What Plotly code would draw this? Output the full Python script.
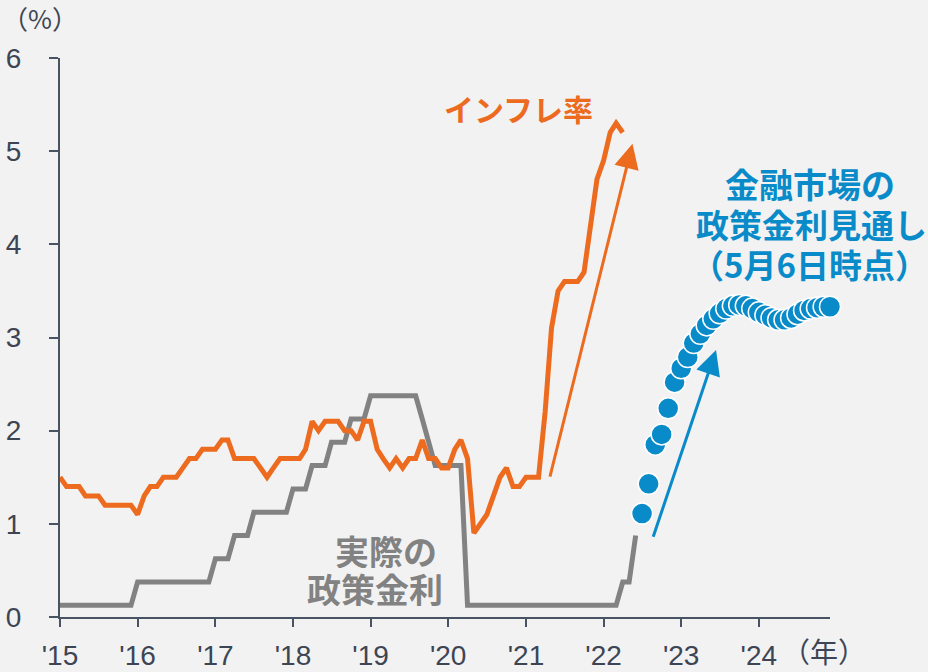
import pandas as pd
import plotly.graph_objects as go

# ---------------- data ----------------
inflation_start = "2015-01-01"
inflation = [
    1.5, 1.4, 1.4, 1.4, 1.3, 1.3, 1.3, 1.2, 1.2, 1.2, 1.2, 1.2,   # 2015
    1.1, 1.3, 1.4, 1.4, 1.5, 1.5, 1.5, 1.6, 1.7, 1.7, 1.8, 1.8,   # 2016
    1.8, 1.9, 1.9, 1.7, 1.7, 1.7, 1.7, 1.6, 1.5, 1.6, 1.7, 1.7,   # 2017
    1.7, 1.7, 1.8, 2.1, 2.0, 2.1, 2.1, 2.1, 2.0, 2.0, 1.9, 2.1,   # 2018
    2.1, 1.8, 1.7, 1.6, 1.7, 1.6, 1.7, 1.7, 1.9, 1.7, 1.7, 1.6,   # 2019
    1.6, 1.8, 1.9, 1.7, 0.9, 1.0, 1.1, 1.3, 1.5, 1.6, 1.4, 1.4,   # 2020
    1.5, 1.5, 1.5, 2.2, 3.1, 3.5, 3.6, 3.6, 3.6, 3.7, 4.2, 4.7,   # 2021
    4.9, 5.2, 5.3, 5.2,                                           # 2022
]

policy_start = "2015-01-01"
policy_rate = (
    [0.125] * 12 +                                                           # 2015
    [0.375] * 12 +                                                           # 2016
    [0.625, 0.625, 0.625, 0.875, 0.875, 0.875] + [1.125] * 6 +               # 2017
    [1.375, 1.375, 1.375, 1.625, 1.625, 1.625,
     1.875, 1.875, 1.875, 2.125, 2.125, 2.125] +                             # 2018
    [2.375] * 8 + [2.125, 1.875, 1.625, 1.625] +                             # 2019
    [1.625, 1.625, 1.625] + [0.125] * 9 +                                    # 2020
    [0.125] * 12 +                                                           # 2021
    [0.125, 0.125, 0.125, 0.375, 0.375, 0.875]                               # 2022
)

market_start = "2022-07-01"
market_path = [
    1.11, 1.43, 1.85, 1.96, 2.24, 2.52,                       # 2022 Jul-Dec
    2.67, 2.79, 2.94, 3.04, 3.13, 3.20, 3.26, 3.31, 3.34, 3.35, 3.34, 3.31,  # 2023
    3.27, 3.24, 3.21, 3.19, 3.19, 3.21, 3.25, 3.29, 3.31, 3.32, 3.33, 3.33,  # 2024
]

year_ticks = [f"{y}-01-01" for y in range(2015, 2025)]
year_labels = ["'15", "'16", "'17", "'18", "'19", "'20", "'21", "'22", "'23", "'24"]
y_ticks = [0, 1, 2, 3, 4, 5, 6]

# arrows (tail -> tip), data coordinates
orange_arrow = dict(tail=("2021-04-22", 1.49), tip=("2022-05-17", 5.08))
blue_arrow = dict(tail=("2022-08-20", 0.845), tip=("2023-06-14", 2.865))

# ---------------- style ----------------
BG = "#F2F2F2"
AXIS = "#4A5363"
TXT = "#3D4554"
ORANGE = "#ED6B1F"
GRAY = "#828282"
BLUE = "#0A8BC9"
LATIN = "Liberation Sans, Arial, sans-serif"
CJK = "Noto Sans CJK JP, sans-serif"

W, H = 928, 672
L, R, T, B = 60, 98, 58, 55
PW, PH = W - L - R, H - T - B


def px(x, y):
    """pixel position -> paper coordinates (for text placement)"""
    return (x - L) / PW, (H - B - y) / PH


x_infl = pd.date_range(inflation_start, periods=len(inflation), freq="MS")
x_pol = pd.date_range(policy_start, periods=len(policy_rate), freq="MS")
x_mkt = pd.date_range(market_start, periods=len(market_path), freq="MS")

fig = go.Figure()
fig.add_trace(go.Scatter(x=x_pol, y=policy_rate, mode="lines",
                         line=dict(color=GRAY, width=5), cliponaxis=False,
                         hoverinfo="skip", showlegend=False))
fig.add_trace(go.Scatter(x=x_infl, y=inflation, mode="lines",
                         line=dict(color=ORANGE, width=5), cliponaxis=False,
                         hoverinfo="skip", showlegend=False))
fig.add_trace(go.Scatter(x=x_mkt, y=market_path, mode="markers",
                         marker=dict(color=BLUE, size=21,
                                     line=dict(color="white", width=1.5)),
                         cliponaxis=False, hoverinfo="skip", showlegend=False))

annotations = []
for arr, col in ((orange_arrow, ORANGE), (blue_arrow, BLUE)):
    annotations.append(dict(
        x=arr["tip"][0], y=arr["tip"][1], ax=arr["tail"][0], ay=arr["tail"][1],
        xref="x", yref="y", axref="x", ayref="y", text="", showarrow=True,
        arrowhead=2, arrowsize=1.65, arrowwidth=3, arrowcolor=col, standoff=0))

def text(x, y, s, size, color, height=None, family=CJK):
    xp, yp = px(x, y)
    ann = dict(x=xp, y=yp, xref="paper", yref="paper", text=s,
               showarrow=False, xanchor="center", yanchor="middle",
               font=dict(family=family, size=size, color=color))
    if height:
        ann["height"] = height
    annotations.append(ann)

text(518, 108, "<b>インフレ率</b>", 30, ORANGE)
text(386, 550, "<b>実際の</b>", 34, GRAY, height=36)
text(375, 588, "<b>政策金利</b>", 34, GRAY, height=36)
text(810, 183, "<b>金融市場の</b>", 34, BLUE, height=38)
text(811, 224, "<b>政策金利見通し</b>", 33, BLUE, height=38)
text(809, 264, "<b>（5月6日時点）</b>", 33, BLUE, height=38)
text(40, 18, "（%）", 26, TXT)
text(824, 651, "（年）", 28, TXT)

fig.update_layout(
    width=W, height=H, autosize=False,
    margin=dict(l=L, r=R, t=T, b=B, pad=0, autoexpand=False),
    paper_bgcolor=BG, plot_bgcolor=BG,
    annotations=annotations,
    xaxis=dict(type="date", range=["2015-01-01", "2024-12-01"],
               tickvals=year_ticks, ticktext=year_labels, automargin=False,
               showgrid=False, zeroline=False, showline=True,
               linecolor=AXIS, linewidth=2, ticks="outside", ticklen=8,
               tickwidth=2, tickcolor=AXIS, ticklabelstandoff=4,
               tickfont=dict(family=LATIN, size=28, color=TXT)),
    yaxis=dict(range=[0, 6], tickvals=y_ticks, automargin=False,
               showgrid=False, zeroline=False, showline=True,
               linecolor=AXIS, linewidth=2, ticks="outside", ticklen=9,
               tickwidth=2, tickcolor=AXIS, ticklabelstandoff=22,
               tickfont=dict(family=LATIN, size=28, color=TXT)),
)

fig.write_html(
    "out.html",
    config={"displayModeBar": False},
    post_script="document.body.style.margin='0';document.body.style.overflow='hidden';",
)
